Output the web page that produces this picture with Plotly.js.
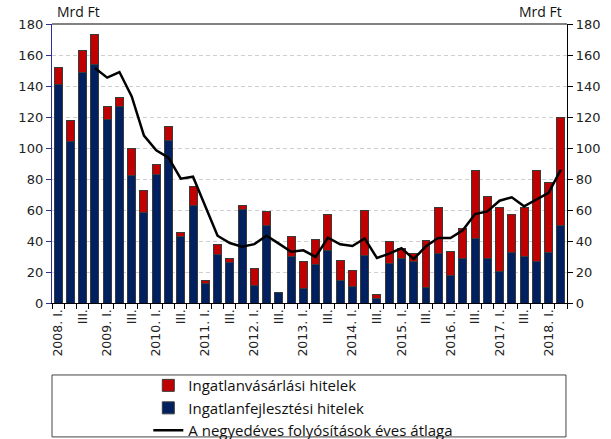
<!DOCTYPE html>
<html>
<head>
<meta charset="utf-8">
<script src="https://cdn.plot.ly/plotly-3.0.1.min.js"></script>
<style>html,body{margin:0;padding:0;background:#fff;}#chart{width:611px;height:439px;}</style>
</head>
<body>
<div id="chart"></div>
<script>
var quarters = ["2008Q1","2008Q2","2008Q3","2008Q4","2009Q1","2009Q2","2009Q3","2009Q4",
  "2010Q1","2010Q2","2010Q3","2010Q4","2011Q1","2011Q2","2011Q3","2011Q4",
  "2012Q1","2012Q2","2012Q3","2012Q4","2013Q1","2013Q2","2013Q3","2013Q4",
  "2014Q1","2014Q2","2014Q3","2014Q4","2015Q1","2015Q2","2015Q3","2015Q4",
  "2016Q1","2016Q2","2016Q3","2016Q4","2017Q1","2017Q2","2017Q3","2017Q4",
  "2018Q1","2018Q2"];
var tickLabels = ["2008. I.","","III.","","2009. I.","","III.","",
  "2010. I.","","III.","","2011. I.","","III.","",
  "2012. I.","","III.","","2013. I.","","III.","",
  "2014. I.","","III.","","2015. I.","","III.","",
  "2016. I.","","III.","","2017. I.","","III.","",
  "2018. I.",""];
var developmentLoans = [141,104,149,154,118.7,126.7,82,58.7,82.8,105,43,63.2,12.7,31.6,26.2,60.2,
  11.2,49.7,7,30.1,9.5,24.7,33.8,14.2,10.8,30.8,3.2,25.2,29,26.5,10.3,31.8,
  17.8,29,41.7,28.4,20.6,32.9,30.3,27.1,32.3,50.3];
var purchaseLoans = [11,13.6,14,19.3,8,5.6,17.6,14,6.7,9,2.6,11.8,1.9,6.4,2.8,2.8,
  11.2,9.4,0,12.7,17.4,16.4,23.2,13.5,10.3,28.8,2.6,14.8,6.3,5.3,30.3,29.9,
  15.5,19,43.5,40.6,40.9,24.1,31.6,58.7,45.7,69.7];
var annualAverage = [null,null,null,151.6,145.4,149,133.3,108,98.5,93.8,80.2,81.5,62.4,43.4,38.7,36.3,
  38,43.4,38.3,33.1,34,29.7,42.2,37.9,36.8,41.7,29,31.8,35.3,28.4,36.6,41.9,
  41.9,46.9,57.4,59.1,66,68.2,62.4,66.7,71,86];

var tickFont = {family: "DejaVu Sans", size: 13, color: "#222"};
var textFont = {family: "Open Sans", size: 15, color: "#111"};

var traces = [
  {type: "bar", name: "Ingatlanfejlesztési hitelek", x: quarters, y: developmentLoans,
   marker: {color: "#002060", line: {color: "#3a3a3a", width: 1}}, legendrank: 2},
  {type: "bar", name: "Ingatlanvásárlási hitelek", x: quarters, y: purchaseLoans,
   marker: {color: "#C00000", line: {color: "#3a3a3a", width: 1}}, legendrank: 1},
  {type: "scatter", mode: "lines", name: "A negyedéves folyósítások éves átlaga",
   x: quarters, y: annualAverage, yaxis: "y2", line: {color: "#000", width: 2.5}, legendrank: 3}
];

var layout = {
  width: 611, height: 439,
  margin: {l: 52, r: 44, t: 24, b: 136, autoexpand: false},
  paper_bgcolor: "#fff", plot_bgcolor: "#fff",
  barmode: "stack", bargap: 0.35,
  showlegend: true,
  legend: {x: 0.187, y: -0.237, xanchor: "left", yanchor: "top", font: textFont,
    traceorder: "normal", bgcolor: "rgba(0,0,0,0)", itemwidth: 30, tracegroupgap: 0},
  xaxis: {type: "category", tickmode: "array", tickvals: quarters, ticktext: tickLabels,
    tickson: "boundaries", ticks: "outside", ticklen: 5, tickcolor: "#000", tickangle: -90,
    tickfont: {family: "DejaVu Sans", size: 12.5, color: "#222"}, showline: true, linecolor: "#000", linewidth: 1.2,
    showgrid: false, zeroline: false, fixedrange: true, automargin: false},
  yaxis: {range: [0, 180], dtick: 20, ticks: "outside", ticklen: 5, tickcolor: "#2E3192",
    tickfont: tickFont, showline: true, linecolor: "#2E3192", linewidth: 1.2,
    showgrid: true, gridcolor: "#cfcfcf", griddash: "4px,3px", gridwidth: 1,
    zeroline: false, fixedrange: true, automargin: false},
  yaxis2: {range: [0, 180], dtick: 20, overlaying: "y", side: "right", ticks: "outside",
    ticklen: 5, tickcolor: "#000", tickfont: tickFont, showline: true, linecolor: "#000",
    linewidth: 1.2, showgrid: false, zeroline: false, fixedrange: true, automargin: false},
  shapes: [
    {type: "line", xref: "paper", yref: "paper", x0: 0, x1: 1, y0: 1, y1: 1,
     line: {color: "#595959", width: 1.5}},
    {type: "rect", xref: "paper", yref: "paper", x0: 0, x1: 0.998, y0: -0.258, y1: -0.48,
     line: {color: "#444", width: 1}}
  ],
  annotations: [
    {text: "Mrd Ft", xref: "paper", yref: "paper", x: 0.006, y: 1.003, xanchor: "left",
     yanchor: "bottom", showarrow: false, font: {family: "Open Sans", size: 14, color: "#111"}},
    {text: "Mrd Ft", xref: "paper", yref: "paper", x: 0.994, y: 1.003, xanchor: "right",
     yanchor: "bottom", showarrow: false, font: {family: "Open Sans", size: 14, color: "#111"}}
  ]
};

Plotly.newPlot("chart", traces, layout, {displayModeBar: false, staticPlot: true});
</script>
</body>
</html>
